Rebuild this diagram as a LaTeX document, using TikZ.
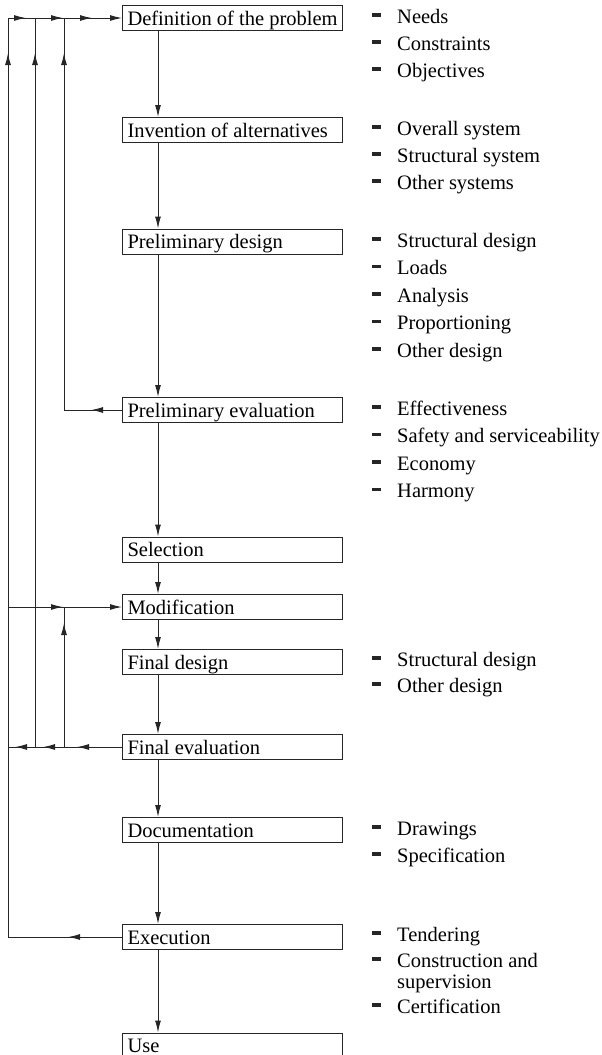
\documentclass[tikz,border=0pt]{standalone}
\usepackage{fontspec}
\setmainfont{Liberation Serif}
\usetikzlibrary{arrows.meta,decorations.markings}
\definecolor{ln}{gray}{0.15}
\newcommand\myfs{\fontsize{20.5pt}{24pt}\selectfont}
\newcommand\li[3]{%
  \fill[ln] (372,{#2-10}) rectangle (381,{#2-6.5});
  \node[lt] (#1) at (397,#2) {#3};}
\newcommand\bt[1]{\makebox[214pt][l]{\hspace*{2pt}#1}}
\begin{document}
\begin{tikzpicture}[x=1pt,y=-1pt,
  box/.style={draw=ln, line width=1pt, rectangle, anchor=west,
    minimum width=220pt, minimum height=25pt,
    inner xsep=3pt, inner ysep=2pt, text height=16.5pt, text depth=2.5pt, font=\myfs},
  lt/.style={anchor=base west, inner sep=0pt, font=\myfs},
  conn/.style={draw=ln, line width=1pt},
  arr/.style={-{Latex[length=12pt,width=6pt]}},
  mk/.style={postaction={decorate,decoration={markings,
    mark=at position #1 with {\arrow{Latex[length=12pt,width=6pt]}}}}}
]
\useasboundingbox (0,0) rectangle (602,1055);
\coordinate (tl) at (8,18);
\coordinate (c35) at (35,18);
\coordinate (c64) at (64,18);
\coordinate (sp) at (158,0);

\node[box] (def) at (122,18) {\bt{Definition of the problem}};
\node[box] (inv) at (122,130) {\bt{Invention of alternatives}};
\node[box] (pd)  at (122,241.5) {\bt{Preliminary design}};
\node[box] (pe)  at (122,410) {\bt{Preliminary evaluation}};
\node[box] (sel) at (122,549.5) {\bt{Selection}};
\node[box] (mod) at (122,607) {\bt{Modification}};
\node[box] (fd)  at (122,662) {\bt{Final design}};
\node[box] (fe)  at (122,747) {\bt{Final evaluation}};
\node[box] (doc) at (122,830) {\bt{Documentation}};
\node[box] (exe) at (122,937) {\bt{Execution}};
\node[box] (use) at (122,1045.5) {\bt{Use}};

\foreach \a/\b in {def/inv,inv/pd,pd/pe,pe/sel,sel/mod,mod/fd,fd/fe,fe/doc,doc/exe,exe/use}
  \draw[conn,arr] (\a.south -| sp) -- (\b.north -| sp);

% feedback loops
\draw[conn,arr,mk=18pt,mk=55pt,mk=84pt] (tl) -- (def.west);
\draw[conn,mk=54pt,mk=998pt] (exe.west) -- (exe.west -| tl) -- (tl);
\draw[conn,mk=45pt,mk=79pt,mk=107pt] (fe.west) -- (fe.west -| tl);
\draw[conn,mk=694pt] (fe.west -| c35) -- (c35);
\draw[conn,mk=124pt] (fe.west -| c64) -- (mod.west -| c64);
\draw[conn,arr,mk=55pt] (mod.west -| tl) -- (mod.west);
\draw[conn,mk=31pt,mk=415pt] (pe.west) -- (pe.west -| c64) -- (c64);

% lists
\li{a1}{23}{Needs}
\li{a2}{50}{Constraints}
\li{a3}{77}{Objectives}
\li{b1}{135}{Overall system}
\li{b2}{162}{Structural system}
\li{b3}{189}{Other systems}
\li{c1}{247}{Structural design}
\li{c2}{274.5}{Loads}
\li{c3}{302}{Analysis}
\li{c4}{329.5}{Proportioning}
\li{c5}{357}{Other design}
\li{d1}{415}{Effectiveness}
\li{d2}{442.5}{Safety and serviceability}
\li{d3}{470}{Economy}
\li{d4}{497.5}{Harmony}
\li{e1}{666}{Structural design}
\li{e2}{692}{Other design}
\li{f1}{835}{Drawings}
\li{f2}{862}{Specification}
\li{g1}{941}{Tendering}
\li{g2}{967}{Construction and}
\node[lt] (g2b) at (397,988) {supervision};
\li{g3}{1013}{Certification}
\end{tikzpicture}
\end{document}
